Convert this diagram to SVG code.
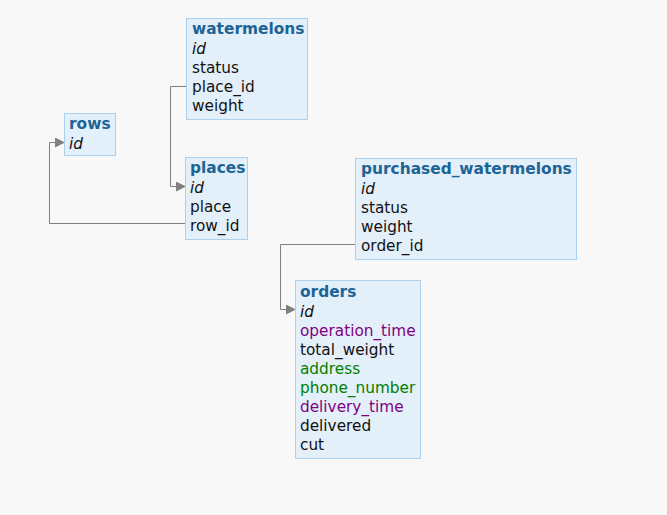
<svg xmlns="http://www.w3.org/2000/svg" width="667" height="515" viewBox="0 0 667 515">
<style>
.bg{fill:#f8f8f8}
.box{fill:#e3eff9;stroke:#aad0ee;stroke-width:1}
text{font-family:"DejaVu Sans",Verdana,sans-serif;font-size:15.3px;fill:#111}
.t{font-weight:bold;fill:#1d6496;font-size:15.4px}
.pk{font-style:italic}
.p{fill:#800080}
.g{fill:#008000}
.c{fill:none;stroke:#808080;stroke-width:1}
</style>
<defs>
<marker id="ar" markerWidth="10" markerHeight="10" refX="9" refY="5" orient="auto" markerUnits="userSpaceOnUse">
<path d="M0,0 L10,5 L0,10 Z" fill="#808080"/>
</marker>
</defs>
<rect class="bg" width="667" height="515"/>
<g id="connectors">
<polyline class="c" points="186.5,86.5 170.5,86.5 170.5,186.5 185,186.5" marker-end="url(#ar)"/>
<polyline class="c" points="185.5,223.5 49.5,223.5 49.5,142.5 64,142.5" marker-end="url(#ar)"/>
<polyline class="c" points="355.5,244.5 280.5,244.5 280.5,309.5 295,309.5" marker-end="url(#ar)"/>
</g>
<g id="watermelons">
<rect class="box" x="186.5" y="18.5" width="121" height="101"/>
<text class="t" x="192" y="34">watermelons</text>
<text class="pk" x="192" y="54">id</text>
<text x="192" y="73">status</text>
<text x="192" y="92">place_id</text>
<text x="192" y="111">weight</text>
</g>
<g id="rows">
<rect class="box" x="64.5" y="113.5" width="51" height="42"/>
<text class="t" x="69" y="129">rows</text>
<text class="pk" x="69" y="149">id</text>
</g>
<g id="places">
<rect class="box" x="185.5" y="157.5" width="62" height="82"/>
<text class="t" x="190" y="173">places</text>
<text class="pk" x="190" y="193">id</text>
<text x="190" y="212">place</text>
<text x="190" y="231">row_id</text>
</g>
<g id="purchased_watermelons">
<rect class="box" x="355.5" y="158.5" width="221" height="101"/>
<text class="t" x="361" y="174">purchased_watermelons</text>
<text class="pk" x="361" y="194">id</text>
<text x="361" y="213">status</text>
<text x="361" y="232">weight</text>
<text x="361" y="251">order_id</text>
</g>
<g id="orders">
<rect class="box" x="295.5" y="280.5" width="125" height="178"/>
<text class="t" x="300" y="297">orders</text>
<text class="pk" x="300" y="317">id</text>
<text class="p" x="300" y="336">operation_time</text>
<text x="300" y="355">total_weight</text>
<text class="g" x="300" y="374">address</text>
<text class="g" x="300" y="393">phone_number</text>
<text class="p" x="300" y="412">delivery_time</text>
<text x="300" y="431">delivered</text>
<text x="300" y="450">cut</text>
</g>
</svg>
